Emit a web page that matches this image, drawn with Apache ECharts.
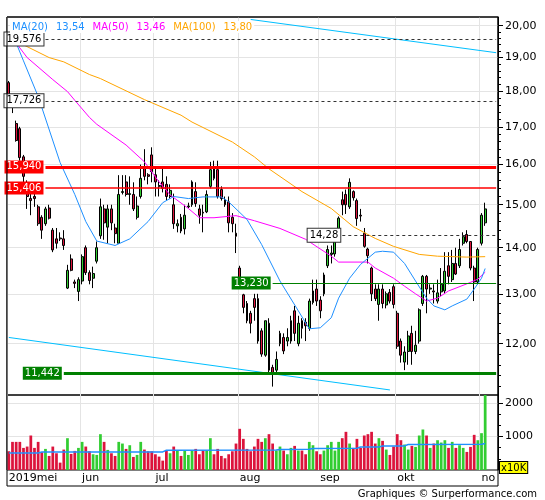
<!DOCTYPE html>
<html><head><meta charset="utf-8">
<script src="https://cdn.jsdelivr.net/npm/echarts@6/dist/echarts.min.js"></script>
<style>html,body{margin:0;padding:0;background:#fff}#c{width:545px;height:500px}</style>
</head><body><div id="c"></div>
<script>
const opens  = [18.25,17.60,17.09,16.95,16.20,15.50,15.15,15.20,14.95,14.70,14.55,14.92,14.40,14.20,14.22,14.20,13.12,13.75,13.25,13.05,13.27,14.00,13.45,13.33,13.70,14.27,14.90,14.47,14.90,14.45,14.10,15.30,15.56,15.25,15.25,14.70,15.20,15.95,15.74,16.25,15.74,15.47,15.56,15.50,15.20,15.00,14.50,14.70,14.43,14.95,15.00,15.32,14.90,14.82,14.83,15.45,15.90,15.87,15.37,15.12,15.07,14.70,14.33,13.55,12.98,12.80,12.60,12.90,12.90,12.25,11.78,12.40,11.55,11.50,12.00,12.12,12.05,12.05,12.65,12.00,12.45,12.42,12.30,12.82,13.10,12.87,13.00,13.60,13.85,13.86,14.38,15.12,15.25,14.95,15.32,15.10,14.75,14.33,13.97,13.55,13.10,12.78,13.10,12.77,13.03,13.15,12.60,12.05,11.65,11.85,12.20,11.85,12.05,12.80,13.37,13.10,13.06,12.85,13.04,13.06,13.60,13.30,13.65,13.60,14.10,14.30,14.14,13.55,13.25,14.10,14.57];
const highs  = [18.30,17.75,17.17,17.00,16.25,15.60,15.35,15.30,15.00,14.75,14.95,15.00,14.45,14.45,14.35,14.40,13.62,13.85,13.30,13.35,13.85,14.05,13.50,13.58,14.14,15.15,15.00,15.00,15.00,14.55,15.73,15.73,15.73,15.70,15.55,15.20,16.00,16.40,15.78,16.45,15.95,15.60,15.90,15.70,15.50,15.27,14.65,14.78,15.00,15.05,15.60,15.55,15.00,15.00,15.35,16.07,16.10,16.10,15.45,15.20,15.20,14.80,14.55,13.60,13.00,12.85,12.65,13.00,13.00,12.30,12.45,12.50,11.60,11.85,12.25,12.20,12.30,12.55,12.75,12.55,12.50,12.50,12.90,13.30,13.30,12.95,13.45,14.05,14.05,14.30,14.72,15.32,15.37,15.65,15.35,15.15,14.90,14.45,14.00,13.58,13.20,13.20,13.20,13.05,13.10,13.20,12.65,12.10,11.95,12.25,12.35,12.25,12.70,13.40,13.40,13.20,13.20,13.30,13.55,13.90,13.90,13.95,14.00,14.20,14.35,14.40,14.15,13.60,14.00,14.80,15.05];
const lows   = [17.80,17.38,16.60,16.10,15.55,14.90,14.75,14.95,14.50,14.20,14.50,14.65,13.90,13.98,14.15,13.95,13.10,13.48,13.12,12.85,13.20,13.40,13.20,13.12,13.65,14.20,14.18,14.10,14.40,14.10,14.10,15.25,15.20,15.00,14.85,14.65,15.15,15.60,15.50,15.55,15.20,15.20,15.30,15.10,15.15,14.43,14.35,14.33,14.30,14.92,14.95,14.95,14.55,14.35,14.80,15.40,15.60,15.15,15.10,14.95,14.35,14.35,13.88,13.30,12.60,12.40,12.20,12.45,12.00,11.75,11.75,11.45,11.20,11.45,11.95,11.80,11.95,12.00,12.05,11.95,12.10,12.05,12.25,12.78,12.75,12.50,12.95,13.55,13.65,13.80,14.30,14.75,14.78,14.90,15.10,14.50,14.60,14.00,13.65,12.85,12.85,12.45,12.70,12.70,12.80,12.70,11.90,11.64,11.50,11.60,11.60,11.80,12.00,12.75,12.60,13.00,12.80,12.80,12.95,13.00,13.20,13.25,13.40,13.55,14.05,14.10,13.50,12.85,13.20,14.05,14.50];
const closes = [17.90,17.55,16.63,16.18,15.70,15.20,15.10,15.15,14.55,14.40,14.90,14.68,13.95,14.10,14.20,14.05,13.50,13.50,13.22,13.30,13.80,13.45,13.28,13.43,14.00,14.95,14.57,14.90,14.57,14.32,15.25,15.32,15.25,15.27,14.90,14.97,15.65,15.70,15.70,15.82,15.56,15.45,15.40,15.20,15.35,14.55,14.55,14.38,14.75,14.97,15.56,15.03,14.75,14.80,15.25,15.87,15.65,15.20,15.15,15.00,14.57,14.55,14.26,13.34,12.72,12.45,12.40,12.72,12.05,11.80,12.45,11.50,11.45,11.70,12.20,11.86,12.12,12.45,12.20,12.40,12.30,12.35,12.85,13.06,12.85,12.65,13.40,13.96,13.88,14.18,14.68,15.00,15.00,15.55,15.17,14.67,14.73,14.03,13.82,13.00,12.90,13.10,12.80,13.00,12.85,12.78,11.95,11.78,11.84,12.15,11.85,11.97,12.67,13.37,13.10,13.12,13.04,13.02,13.20,13.48,13.37,13.65,13.42,13.96,14.25,14.14,13.55,13.25,13.96,14.75,14.90];
const volumes = [560,840,840,840,660,700,1030,660,840,530,630,420,700,500,220,610,950,480,570,660,840,700,560,470,450,1070,840,600,500,420,840,790,630,740,390,450,840,610,560,560,470,400,280,580,500,700,580,420,580,450,580,630,470,580,580,950,470,630,420,350,470,560,790,1230,930,630,560,700,930,840,950,1070,790,580,700,580,470,660,720,580,580,470,840,740,560,470,580,740,840,580,840,950,1140,790,660,930,660,1030,1070,1140,790,950,870,610,450,700,1070,890,760,610,720,690,1030,1210,1030,660,790,890,820,890,660,840,660,740,660,540,690,1050,890,1100,2300];
const ma20 = [[0,19.62],[2,19.45],[4,18.9],[8,17.85],[14,16.05],[18,15.25],[21,14.6],[24,14.15],[29,14.05],[33,14.2],[38,14.6],[42,15.05],[45,15.2],[49,15.15],[53,15.19],[58,15.19],[60,15.07],[65,14.65],[69,14.07],[74,13.27],[79,12.65],[82,12.29],[85,12.31],[88,12.51],[90,12.91],[93,13.33],[96,13.63],[100,13.90],[102,13.92],[105,13.90],[108,13.65],[111,13.27],[114,12.91],[116,12.75],[119,12.67],[121,12.75],[125,12.89],[127,13.10],[129,13.33],[130,13.54]];
const ma50 = [[0,19.64],[2,19.45],[5,19.0],[12,18.34],[16,17.99],[18,17.74],[22,17.26],[24,17.07],[32,16.51],[37,16.07],[41,15.56],[44,15.24],[49,14.91],[52,14.69],[56,14.69],[62,14.74],[67,14.62],[74,14.44],[81,14.19],[88,13.81],[90,13.68],[98,13.68],[100,13.55],[105,13.33],[108,13.16],[111,13.00],[114,12.85],[117,12.91],[120,13.06],[125,13.21],[128,13.31],[130,13.46]];
const ma100 = [[0,19.56],[3,19.45],[11,19.00],[15,18.87],[22,18.49],[25,18.37],[37,17.76],[47,17.32],[50,17.13],[61,16.59],[67,16.20],[71,15.89],[80,15.32],[88,14.91],[94,14.48],[100,14.21],[105,14.03],[112,13.85],[117,13.81],[125,13.79],[130,13.80]];
const volumeMA = [[0,505],[8,510],[9,537],[42,540],[43,590],[73,595],[74,615],[82,620],[83,640],[95,650],[96,685],[101,690],[102,715],[108,720],[109,760],[129,770],[130,790]];
const trendUpper = [[66,20.2],[133,19.15]];
const trendLower = [[0,12.12],[104,11.14]];
const levels = [19.576,17.726,15.94,15.406,14.28,13.23,11.442];
const levelLabels = ['19,576','17,726','15,940','15,406','14,28','13,230','11,442'];
const levelStart = [10,10,10,10,91,72,15];
const monthTickIndex = [0,20,40,63,85,106,129];
const monthTickLabels = ['2019mei','jun','jul','aug','sep','okt','no'];
const priceTicks = [12,13,14,15,16,17,18,19,20];
const volumeTicks = [1000,2000];
const volumeMinorTicks = [333,667,1333,1667];
const legendNames = ['MA(20)','MA(50)','MA(100)'];
const SLOTS = 134;

const L = Math.log;
const FONT = 'DejaVu Sans';
const RED = '#DC143C', GREEN = '#32CD32';
const categories = Array.from({length: SLOTS}, (_, i) => 'd' + i);
const priceMin = L(11.05), priceMax = L(20.28);
const minorPrice = [];
for (let v = 11.2; v < 20.1; v += 0.2) { const r = Math.round(v * 10) / 10; if (Math.abs(r - Math.round(r)) > 0.01) minorPrice.push(L(r)); }
const comma = (v, d) => v.toFixed(d).replace('.', ',');
const lnPairs = arr => arr.map(p => [p[0], L(p[1])]);

const boxed = {color:'#000',backgroundColor:'#fff',borderColor:'#333',borderWidth:1};
const dashed = {color:'#333',width:1,type:[3,3]};
const levelStyles = [
  {line:dashed, label:boxed},
  {line:dashed, label:boxed},
  {line:{color:'#FF0000',width:3,type:'solid'}, label:{color:'#fff',backgroundColor:'#FF0000'}},
  {line:{color:'#FF0000',width:1.5,type:'solid'}, label:{color:'#fff',backgroundColor:'#FF0000'}},
  {line:dashed, label:boxed},
  {line:{color:'#008000',width:1,type:'solid'}, label:{color:'#fff',backgroundColor:'#008000'}},
  {line:{color:'#008000',width:3,type:'solid'}, label:{color:'#fff',backgroundColor:'#008000'}}
];
const markData = levels.map((v, k) => [
  {coord:[levelStart[k], L(v)], lineStyle: levelStyles[k].line,
   label: Object.assign({show:true, position:'start', distance:2, formatter: levelLabels[k], fontSize:10, fontFamily:FONT, padding:[2,2,1,2]}, levelStyles[k].label)},
  {coord:[SLOTS - 1, L(v)]}
]);

const last = a => a[a.length - 1][1];
const chart = echarts.init(document.getElementById('c'), null, {renderer:'canvas'});
const monthInterval = (idx) => monthTickIndex.indexOf(idx) >= 0;
const gridLine = {show:true, lineStyle:{color:'#e4e4e4', width:1}};

chart.setOption({
  animation:false,
  backgroundColor:'#fff',
  title:{
    left:10, top:21, z:20, padding:[1,2,1,2], backgroundColor:'#fff',
    text:'{b|' + legendNames[0] + '}{b|' + comma(last(ma20),2) + '}{m|' + legendNames[1] + '}{m|' + comma(last(ma50),2) + '}{o|' + legendNames[2] + '}{o|' + comma(last(ma100),2) + '}',
    textStyle:{fontSize:10, fontFamily:FONT, fontWeight:'normal',
      rich:{
        b:{color:'#1E90FF', fontSize:10, fontFamily:FONT, padding:[0,8,0,0]},
        m:{color:'#FF00FF', fontSize:10, fontFamily:FONT, padding:[0,8,0,0]},
        o:{color:'#FFA500', fontSize:10, fontFamily:FONT, padding:[0,8,0,0]}
      }}
  },
  grid:[
    {left:7, top:17, width:491, height:378, show:true, borderColor:'#000', borderWidth:1, backgroundColor:'transparent'},
    {left:7, top:395, width:491, height:75, show:true, borderColor:'#000', borderWidth:1, backgroundColor:'transparent'}
  ],
  xAxis:[
    {type:'category', gridIndex:0, data:categories, boundaryGap:true,
     axisLine:{show:false}, axisTick:{show:false}, axisLabel:{show:false},
     splitLine:Object.assign({interval:monthInterval}, gridLine)},
    {type:'category', gridIndex:1, data:categories, boundaryGap:true,
     axisLine:{show:false}, axisTick:{show:false},
     axisLabel:{show:true, interval:monthInterval, align:'left', margin:3, color:'#000', fontSize:11, fontFamily:FONT,
       formatter:(val, idx) => monthTickLabels[monthTickIndex.indexOf(idx)] || ''},
     splitLine:Object.assign({interval:monthInterval}, gridLine)}
  ],
  yAxis:[
    {type:'value', gridIndex:0, position:'right', min:priceMin, max:priceMax, scale:true,
     axisLine:{show:true, lineStyle:{color:'#000'}},
     axisTick:{show:true, length:5, lineStyle:{color:'#000'}, customValues:priceTicks.map(L)},
     axisLabel:{show:true, margin:7, color:'#000', fontSize:11, fontFamily:FONT, customValues:priceTicks.map(L),
       formatter:v => comma(Math.exp(v),2)},
     splitLine:Object.assign({customValues:priceTicks.map(L)}, gridLine)},
    {type:'value', gridIndex:0, position:'right', min:priceMin, max:priceMax, scale:true,
     axisLine:{show:false}, axisLabel:{show:false}, splitLine:{show:false},
     axisTick:{show:true, length:3, lineStyle:{color:'#000'}, customValues:minorPrice}},
    {type:'value', gridIndex:1, position:'right', min:0, max:2240,
     axisLine:{show:true, lineStyle:{color:'#000'}},
     axisTick:{show:true, length:5, lineStyle:{color:'#000'}, customValues:volumeTicks},
     axisLabel:{show:true, margin:7, color:'#000', fontSize:11, fontFamily:FONT, customValues:volumeTicks,
       formatter:v => String(Math.round(v))},
     splitLine:Object.assign({customValues:volumeTicks}, gridLine)},
    {type:'value', gridIndex:1, position:'right', min:0, max:2240,
     axisLine:{show:false}, axisLabel:{show:false}, splitLine:{show:false},
     axisTick:{show:true, length:3, lineStyle:{color:'#000'}, customValues:volumeMinorTicks}}
  ],
  series:[
    {type:'bar', xAxisIndex:1, yAxisIndex:2, barWidth:'75%',
     data:volumes.map((v, i) => ({value:v, itemStyle:{color: i < closes.length && closes[i] >= opens[i] ? GREEN : RED}}))},
    {type:'line', xAxisIndex:1, yAxisIndex:2, data:volumeMA, symbol:'none', lineStyle:{color:'#1E90FF', width:1.5}, z:5},
    {type:'line', xAxisIndex:0, yAxisIndex:0, data:lnPairs(trendUpper), symbol:'none', lineStyle:{color:'#00BFFF', width:1}},
    {type:'line', xAxisIndex:0, yAxisIndex:0, data:lnPairs(trendLower), symbol:'none', lineStyle:{color:'#00BFFF', width:1}},
    {type:'candlestick', xAxisIndex:0, yAxisIndex:0, barWidth:2.4,
     data:opens.map((o, i) => [L(o), L(closes[i]), L(lows[i]), L(highs[i])]),
     itemStyle:{color:GREEN, color0:RED, borderColor:'#000', borderColor0:'#000', borderColorDoji:'#000', borderWidth:1}},
    {type:'line', xAxisIndex:0, yAxisIndex:0, data:lnPairs(ma100), symbol:'none', lineStyle:{color:'#FFA500', width:1}, z:4},
    {type:'line', xAxisIndex:0, yAxisIndex:0, data:lnPairs(ma50), symbol:'none', lineStyle:{color:'#FF00FF', width:1}, z:4},
    {type:'line', xAxisIndex:0, yAxisIndex:0, data:lnPairs(ma20), symbol:'none', lineStyle:{color:'#1E90FF', width:1}, z:4},
    {type:'line', xAxisIndex:0, yAxisIndex:0, data:[], z:6,
     markLine:{silent:true, symbol:['none','none'], animation:false, data:markData}}
  ],
  graphic:[
    {type:'rect', shape:{x:7, y:17, width:491, height:469}, style:{fill:'none', stroke:'#000', lineWidth:1}, z:100, silent:true},
    {type:'text', left:499, top:461, z:100, style:{text:'x10K', fill:'#000', font:'10px "DejaVu Sans"', backgroundColor:'#FFFF00', borderColor:'#000', borderWidth:1, padding:[1,1,0,1]}},
    {type:'text', right:8, top:489, z:100, style:{text:'Graphiques © Surperformance.com', fill:'#000', font:'10px "DejaVu Sans"'}}
  ]
});
</script>
</body></html>
